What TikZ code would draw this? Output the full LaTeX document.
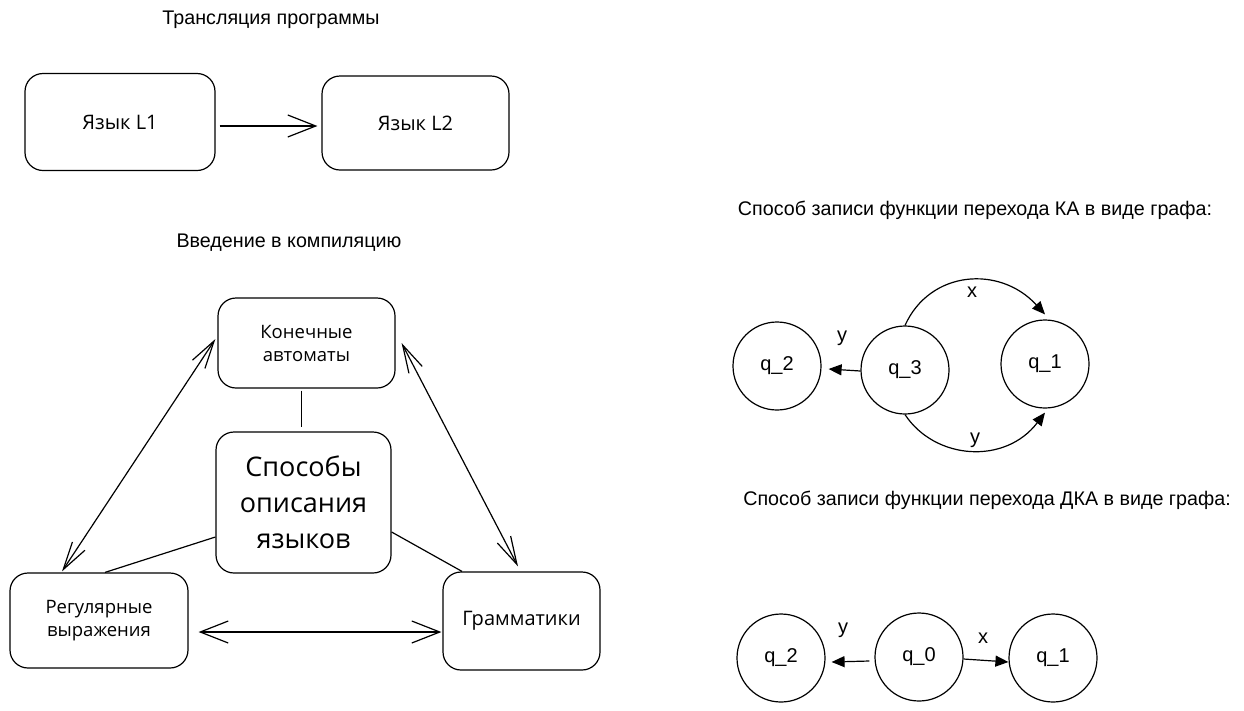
\documentclass[tikz,border=0pt]{standalone}
\usepackage{fontspec}
\setmainfont{Liberation Sans}
\newfontfamily\handfont{Open Sans}
\usetikzlibrary{arrows.meta,calc}
\tikzset{
  hd/.tip={Straight Barb[length=28pt,width=22pt]},
  hdslim/.tip={Straight Barb[length=28pt,width=15pt]},
  ft/.tip={Triangle[length=13pt,width=11pt]},
}
\begin{document}
\begin{tikzpicture}[x=1pt,y=-1pt,
  title/.style={font=\fontsize{19.7}{22}\selectfont, inner sep=0pt},
  box/.style={draw, line width=1.2pt, rounded corners=18pt, align=center, inner sep=0pt,
    font=\handfont\fontsize{18.5}{23}\selectfont},
  st/.style={draw, circle, line width=1.2pt, inner sep=0pt, minimum size=88pt,
    font=\fontsize{20}{22}\selectfont},
  conn/.style={line width=1.2pt},
  lbl/.style={font=\fontsize{20}{22}\selectfont, inner sep=0pt},
]
\useasboundingbox (0,0) rectangle (1244,710);

% --- top left
\node[title] (t1) at (271,20) {Трансляция программы};
\node[box, minimum width=190pt, minimum height=97pt, font=\handfont\fontsize{20}{23}\selectfont] (l1) at (120,122) {Язык L1};
\node[box, minimum width=187pt, minimum height=94pt, font=\handfont\fontsize{20}{23}\selectfont] (l2) at (415.5,123) {Язык L2};
\draw[conn,-hd] ([xshift=4pt,yshift=-4pt]l1.east) -- ([xshift=-4pt,yshift=-3pt]l2.west);

% --- bottom left
\node[title] (t2) at (289,243) {Введение в компиляцию};
\node[box, minimum width=177pt, minimum height=90pt] (ka) at (306.5,343) {Конечные\\автоматы};
\node[box, minimum width=175pt, minimum height=141pt,
  font=\handfont\fontsize{27}{36}\selectfont] (sp) at (303.5,502.5) {\raisebox{-3pt}{Способы}\\\raisebox{-3pt}{описания}\\\raisebox{-3pt}{языков}};
\node[box, minimum width=178pt, minimum height=95pt] (rv) at (99,620.5) {Регулярные\\выражения};
\node[box, minimum width=157pt, minimum height=98pt, font=\handfont\fontsize{20}{23}\selectfont] (gr) at (521.5,621) {Грамматики};

\draw[conn, shorten <=2pt, shorten >=4pt] ([xshift=-5pt]ka.south) -- ([xshift=-2pt]sp.north);
\draw[conn,hdslim-hdslim] ([xshift=-2pt,yshift=4pt]ka.west) -- ([xshift=-37pt,yshift=1pt]rv.north);
\draw[conn] ([yshift=-34.5pt]sp.west) -- ([xshift=6pt]rv.north);
\draw[conn,hdslim-hdslim] ([xshift=6pt]ka.east) -- ([xshift=-3.5pt,yshift=5pt]gr.north);
\draw[conn] ([yshift=-29.5pt]sp.east) -- ([xshift=-59.5pt]gr.north);
\draw[conn,hd-hd] ([xshift=10pt,yshift=-11.5pt]rv.east) -- ([xshift=-1pt,yshift=-11pt]gr.west);

% --- right: NFA
\node[title] (t3) at (975,210) {Способ записи функции перехода КА в виде графа:};
\node[st] (q2a) at (777,366) {q\_2};
\node[st] (q3) at (905,370) {q\_3};
\node[st] (q1a) at (1045,364) {q\_1};
\draw[conn,-ft] ([yshift=-1pt]q3.west) -- ([xshift=7pt,yshift=-3pt]q2a.east);
\draw[conn,-ft] (q3.north) .. controls (930,270) and (1000,265) .. ([yshift=5pt]q1a.north);
\draw[conn,-ft] (q3.south) .. controls (935,460) and (1005,465) .. ([yshift=-4pt]q1a.south);
\node[lbl] (y1) at (842,338) {y};
\node[lbl] (x1) at (972,292) {x};
\node[lbl] (y2) at (975,440) {y};

% --- right: DFA
\node[title] (t4) at (987,500) {Способ записи функции перехода ДКА в виде графа:};
\node[st] (q2b) at (781,658) {q\_2};
\node[st] (q0) at (919,657) {q\_0};
\node[st] (q1b) at (1053,658) {q\_1};
\draw[conn,-ft] ([xshift=-5pt,yshift=-4pt]q0.west) -- ([xshift=6pt,yshift=-4pt]q2b.east);
\draw[conn,-ft] ([yshift=-2pt]q0.east) -- ([yshift=-4pt]q1b.west);
\node[lbl] (y3) at (843,630) {y};
\node[lbl] (x2) at (983,638) {x};
\end{tikzpicture}
\end{document}
